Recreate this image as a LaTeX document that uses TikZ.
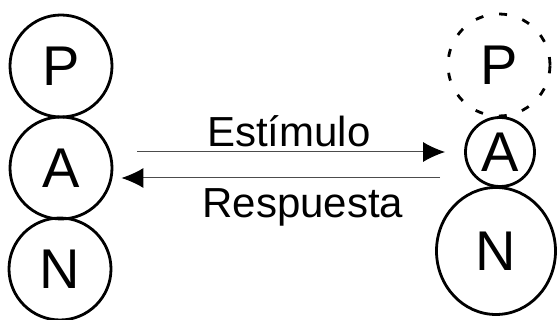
\documentclass[tikz,border=0pt]{standalone}
\usepackage{fontspec}
\setmainfont{Liberation Sans}
\usetikzlibrary{arrows.meta,shapes.geometric}
\tikzset{ %inner sep = 0.5mm,
  {layer/.style} ={circle,draw,line width=1.4pt,inner sep=0,
                   font=\fontsize{28}{30}\selectfont},
  {big layer/.style} ={layer, minimum size= 51pt},
  {small layer/.style} ={layer, minimum size= 34.5pt},
  {lost layer/.style} ={big layer, dash pattern=on 4pt off 8pt},
  {grown layer/.style} ={layer, ellipse, minimum width=59.5pt,
                         minimum height=63.5pt},
  {signal/.style} ={draw=black!70,line width=0.5pt,->},
  {signal text/.style} ={font=\fontsize{21}{24}\selectfont},
  >={Latex[length=11pt,width=10pt,color=black]},
 }

\begin{document}
\begin{tikzpicture}[x=0.5pt,y=-0.5pt]
    \useasboundingbox (0,0) rectangle (558,320);
    % before
    \node[big layer] (leftP) at (61,66) {P};
    \node[big layer] (leftA) at (61,168) {A};
    \node[big layer] (leftN) at (60,269) {N};
    % after
    \node[lost layer] (rightP) at (499,65) {P};
    \node[small layer] (rightA) at (500,152) {A};
    \node[grown layer] (rightN) at (496,251) {N};
    % arrows between both
    \coordinate (backStart) at ([yshift=-13pt]rightA.west);
    \draw[signal,shorten <=12pt,shorten >=9.5pt]
        (leftA.east |- rightA.west) -- (rightA.west)
        node[midway,above,inner sep=2.5pt,signal text] (stim) {Estímulo};
    \draw[signal,shorten <=12pt,shorten >=4pt]
        (backStart) -- (leftA.east |- backStart)
        node[midway,below,inner sep=5pt,xshift=7pt,signal text] (resp) {Respuesta};
\end{tikzpicture}
\end{document}
